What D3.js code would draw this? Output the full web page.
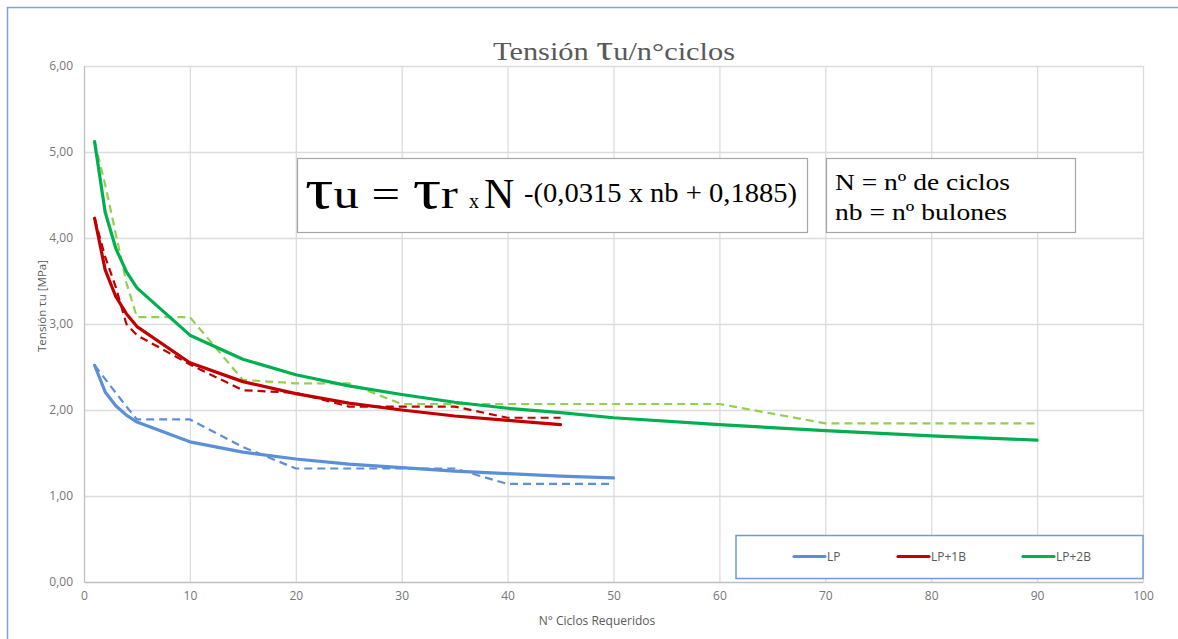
<!DOCTYPE html>
<html>
<head>
<meta charset="utf-8">
<script src="https://cdn.jsdelivr.net/npm/d3@7"></script>
<style>
  html, body { margin: 0; padding: 0; background: #fff; }
  svg { display: block; }
</style>
</head>
<body>
<svg id="chart" width="1178" height="639"></svg>
<script>
// ---- data ----
const xTicks = [0, 10, 20, 30, 40, 50, 60, 70, 80, 90, 100];
const yTicks = [0, 1, 2, 3, 4, 5, 6];
const seriesNames = ["LP", "LP+1B", "LP+2B"];

const xLP  = [1, 2, 3, 4, 5, 10, 15, 20, 25, 30, 35, 40, 45, 50];
const fitLP = [2.52, 2.21, 2.05, 1.94, 1.86, 1.63, 1.51, 1.43, 1.37, 1.33, 1.29, 1.26, 1.23, 1.21];
const expLP = [2.52, 2.36, 2.20, 2.04, 1.89, 1.89, 1.57, 1.32, 1.32, 1.32, 1.32, 1.14, 1.14, 1.14];

const x1B  = [1, 2, 3, 4, 5, 10, 15, 20, 25, 30, 35, 40, 45];
const fit1B = [4.23, 3.63, 3.32, 3.12, 2.97, 2.55, 2.33, 2.19, 2.08, 2.00, 1.93, 1.88, 1.83];
const exp1B = [4.23, 3.78, 3.43, 3.00, 2.87, 2.53, 2.23, 2.20, 2.04, 2.04, 2.04, 1.91, 1.91];

const x2B  = [1, 2, 3, 4, 5, 10, 15, 20, 25, 30, 35, 40, 45, 50, 60, 70, 80, 90];
const fit2B = [5.12, 4.30, 3.88, 3.61, 3.42, 2.87, 2.59, 2.41, 2.28, 2.18, 2.09, 2.02, 1.97, 1.91, 1.83, 1.76, 1.70, 1.65];
const exp2B = [5.12, 4.62, 4.05, 3.48, 3.08, 3.08, 2.35, 2.31, 2.31, 2.07, 2.07, 2.07, 2.07, 2.07, 2.07, 1.845, 1.845, 1.845];

// ---- setup ----
const svg = d3.select("#chart");
const L = 84, R = 1143, T = 66, B = 582;
const x = d3.scaleLinear().domain([0, 100]).range([L, R]);
const y = d3.scaleLinear().domain([0, 6]).range([B, T]);

const fmt = d => d.toFixed(2).replace(".", ",");
const tickColor = "#767676";
const sans = "'Open Sans', sans-serif";
const serif = "'Liberation Serif', 'DejaVu Serif', serif";

// outer border
svg.append("rect").attr("x", 7.5).attr("y", 7.5).attr("width", 1200).attr("height", 700)
  .attr("fill", "#fff").attr("stroke", "#7ea3d8").attr("stroke-width", 1.5);

// grid
const grid = svg.append("g");
grid.selectAll("line.h").data(yTicks.filter(d => d > 0)).join("line")
  .attr("x1", L).attr("x2", R).attr("y1", d => y(d) + 0.5).attr("y2", d => y(d) + 0.5)
  .attr("stroke", "#dcdcdc").attr("stroke-width", 1.3);
grid.selectAll("line.v").data(xTicks.filter(d => d > 0)).join("line")
  .attr("y1", T).attr("y2", B).attr("x1", d => x(d) + 0.5).attr("x2", d => x(d) + 0.5)
  .attr("stroke", "#dcdcdc").attr("stroke-width", 1.3);

// axes
const yAxis = svg.append("g").attr("transform", `translate(${L},0)`)
  .call(d3.axisLeft(y).tickValues(yTicks).tickFormat(fmt).tickSize(0).tickPadding(11));
const xAxis = svg.append("g").attr("transform", `translate(0,${B})`)
  .call(d3.axisBottom(x).tickValues(xTicks).tickFormat(d3.format("d")).tickSize(0).tickPadding(9));
[yAxis, xAxis].forEach(a => {
  a.select(".domain").attr("stroke", "#bfbfbf").attr("stroke-width", 1.3);
  a.selectAll("text").attr("fill", tickColor).style("font-family", sans).style("font-size", "12px");
});

// axis titles
svg.append("text").attr("transform", "translate(46,306) rotate(-90)")
  .attr("text-anchor", "middle").attr("fill", "#595959")
  .attr("textLength", 92).attr("lengthAdjust", "spacingAndGlyphs")
  .style("font-family", sans).style("font-size", "11.5px").text("Tensión τu [MPa]");
svg.append("text").attr("x", 597).attr("y", 625).attr("text-anchor", "middle")
  .attr("fill", "#595959").style("font-family", sans).style("font-size", "12px")
  .text("N° Ciclos Requeridos");

// title
const title = svg.append("text").attr("x", 493).attr("y", 60).attr("fill", "#595959")
  .attr("textLength", 242).attr("lengthAdjust", "spacingAndGlyphs")
  .style("font-family", serif).style("font-size", "26px");
title.append("tspan").text("Tensión ");
title.append("tspan").style("font-size", "36px").text("τ");
title.append("tspan").text("u/n°ciclos");

// series
const colors = { LP: "#5b8fd8", "LP+1B": "#c00000", "LP+2B": "#00b050" };
const dashColors = { LP: "#5b8fd8", "LP+1B": "#c00000", "LP+2B": "#92d050" };
const series = [
  { name: "LP", xs: xLP, fit: fitLP, exp: expLP },
  { name: "LP+1B", xs: x1B, fit: fit1B, exp: exp1B },
  { name: "LP+2B", xs: x2B, fit: fit2B, exp: exp2B }
];
const line = d3.line().x(d => x(d[0])).y(d => y(d[1]));
const plot = svg.append("g");
series.forEach(s => {
  plot.append("path").datum(s.xs.map((v, i) => [v, s.exp[i]]))
    .attr("d", line).attr("fill", "none").attr("stroke", dashColors[s.name])
    .attr("stroke-width", 2.2).attr("stroke-dasharray", "8,5");
});
series.forEach(s => {
  plot.append("path").datum(s.xs.map((v, i) => [v, s.fit[i]]))
    .attr("d", line).attr("fill", "none").attr("stroke", colors[s.name])
    .attr("stroke-width", 3.2).attr("stroke-linejoin", "round").attr("stroke-linecap", "round");
});

// formula boxes
svg.append("rect").attr("x", 297.5).attr("y", 158.5).attr("width", 510).attr("height", 74)
  .attr("fill", "#fff").attr("stroke", "#a6a6a6").attr("stroke-width", 1.2);
svg.append("rect").attr("x", 826.5).attr("y", 158.5).attr("width", 249).attr("height", 74)
  .attr("fill", "#fff").attr("stroke", "#a6a6a6").attr("stroke-width", 1.2);

const f1 = svg.append("text").attr("x", 305).attr("y", 208).attr("fill", "#000")
  .attr("textLength", 153).attr("lengthAdjust", "spacingAndGlyphs")
  .style("font-family", serif);
f1.append("tspan").style("font-size", "56px").text("τ");
f1.append("tspan").style("font-size", "40px").text("u = ");
f1.append("tspan").style("font-size", "56px").text("τ");
f1.append("tspan").style("font-size", "40px").text("r");
svg.append("text").attr("x", 469).attr("y", 208).style("font-family", serif)
  .style("font-size", "20px").text("x");
svg.append("text").attr("x", 484).attr("y", 208).style("font-family", serif)
  .style("font-size", "42px").text("N");
svg.append("text").attr("x", 524).attr("y", 202).style("font-family", serif)
  .attr("textLength", 273).attr("lengthAdjust", "spacingAndGlyphs")
  .style("font-size", "27px").text("-(0,0315 x nb + 0,1885)");

svg.append("text").attr("x", 835).attr("y", 190).style("font-family", serif)
  .attr("textLength", 175).attr("lengthAdjust", "spacingAndGlyphs")
  .style("font-size", "23px").text("N = nº de ciclos");
svg.append("text").attr("x", 835).attr("y", 220).style("font-family", serif)
  .attr("textLength", 172).attr("lengthAdjust", "spacingAndGlyphs")
  .style("font-size", "23px").text("nb = nº bulones");

// legend
svg.append("rect").attr("x", 736).attr("y", 535.5).attr("width", 407).attr("height", 43)
  .attr("fill", "#fff").attr("stroke", "#6f9bd8").attr("stroke-width", 1.5);
const legX = [794, 898, 1023];
const leg = svg.append("g").selectAll("g").data(seriesNames).join("g")
  .attr("transform", (d, i) => `translate(${legX[i]},556.5)`);
leg.append("line").attr("x1", 0).attr("x2", 31).attr("stroke", d => colors[d])
  .attr("stroke-width", 3.2).attr("stroke-linecap", "round");
leg.append("text").attr("x", 33).attr("y", 4.5).attr("fill", "#595959")
  .style("font-family", sans).style("font-size", "12px").text(d => d);
</script>
</body>
</html>
